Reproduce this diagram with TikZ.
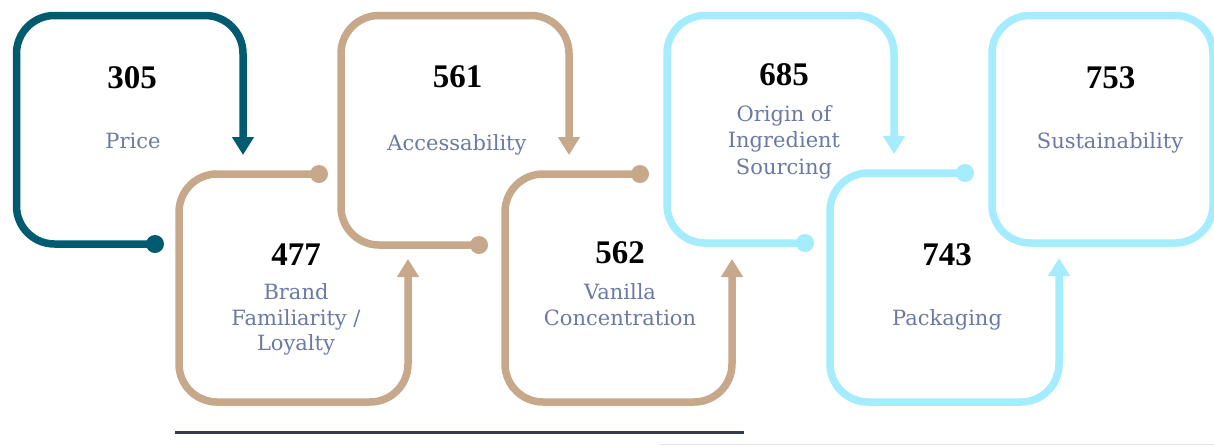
\documentclass[tikz,border=0pt]{standalone}
\usepackage{fontspec}
\setmainfont{DejaVu Serif}
\newfontfamily\numfont{Liberation Serif}
\usetikzlibrary{arrows.meta}
\definecolor{cteal}{RGB}{0,91,112}
\definecolor{ctan}{RGB}{200,168,138}
\definecolor{cblue}{RGB}{166,236,255}
\definecolor{cnavy}{RGB}{50,56,77}
\definecolor{clabel}{RGB}{107,122,163}
\tikzset{
  flow/.style={line width=7.5pt, rounded corners=38pt, -{Triangle[width=21pt,length=18pt]}},
  loopbox/.style={line width=7.5pt, rounded corners=38pt},
  dotnode/.style={circle, inner sep=0pt, minimum size=18pt},
  num/.style={font=\numfont\bfseries\fontsize{33}{33}\selectfont, anchor=base, text=black, inner sep=0pt},
  lab/.style={font=\fontsize{21}{26}\selectfont, anchor=base, text=clabel, inner sep=0pt},
}
\begin{document}
\begin{tikzpicture}[x=1pt,y=-1pt]
\useasboundingbox (0,0) rectangle (1214,445);
\fill[white] (0,0) rectangle (1214,445);
\clip (0,0) rectangle (1214,445);
% shape 1 (teal)
\node[dotnode, fill=cteal] (d1) at (155,244) {};
\draw[flow, cteal] (d1.center) -- (16.5,244) -- (16.5,15.5) -- (243,15.5) -- (243,155);
% shape 2 (tan)
\node[dotnode, fill=ctan] (d2) at (319,174) {};
\draw[flow, ctan] (d2.center) -- (179,174) -- (179,402) -- (408,402) -- (408,259);
% shape 3 (tan)
\node[dotnode, fill=ctan] (d3) at (479,245) {};
\draw[flow, ctan] (d3.center) -- (341,245) -- (341,15.5) -- (569,15.5) -- (569,155);
% shape 4 (tan)
\node[dotnode, fill=ctan] (d4) at (640,174) {};
\draw[flow, ctan] (d4.center) -- (505,174) -- (505,402) -- (732,402) -- (732,259);
% shape 5 (blue)
\node[dotnode, fill=cblue] (d5) at (805,243) {};
\draw[flow, cblue] (d5.center) -- (667,243) -- (667,15.5) -- (894,15.5) -- (894,154);
% shape 6 (blue)
\node[dotnode, fill=cblue] (d6) at (965,173) {};
\draw[flow, cblue] (d6.center) -- (830,173) -- (830,402) -- (1059,402) -- (1059,258);
% shape 7 (blue, closed)
\draw[loopbox, cblue] (992,15.5) rectangle (1213,243);
% bottom lines
\draw[cnavy, line width=3.5pt] (175,432.5) -- (744,432.5);
\draw[black!10, line width=1pt] (660,444.5) -- (1214,444.5);
% texts
\node[num] (n305) at (132,88) {305};
\node[lab] (l305) at (133,148.3) {Price};
\node[num] (n561) at (457.5,87) {561};
\node[lab] (l561) at (457,150) {Accessability};
\node[num] (n685) at (784,85) {685};
\node[lab] (l685a) at (784,121.7) {Origin of};
\node[lab] (l685b) at (784,147.7) {Ingredient};
\node[lab] (l685c) at (784,174) {Sourcing};
\node[num] (n753) at (1110.5,88) {753};
\node[lab] (l753) at (1110,148.3) {Sustainability};
\node[num] (n477) at (296,265) {477};
\node[lab] (l477a) at (296,299) {Brand};
\node[lab] (l477b) at (296,325) {Familiarity /};
\node[lab] (l477c) at (296,350.5) {Loyalty};
\node[num] (n562) at (620,263) {562};
\node[lab] (l562a) at (620,299) {Vanilla};
\node[lab] (l562b) at (620,325) {Concentration};
\node[num] (n743) at (947,265) {743};
\node[lab] (l743) at (947,325.7) {Packaging};
\end{tikzpicture}
\end{document}
